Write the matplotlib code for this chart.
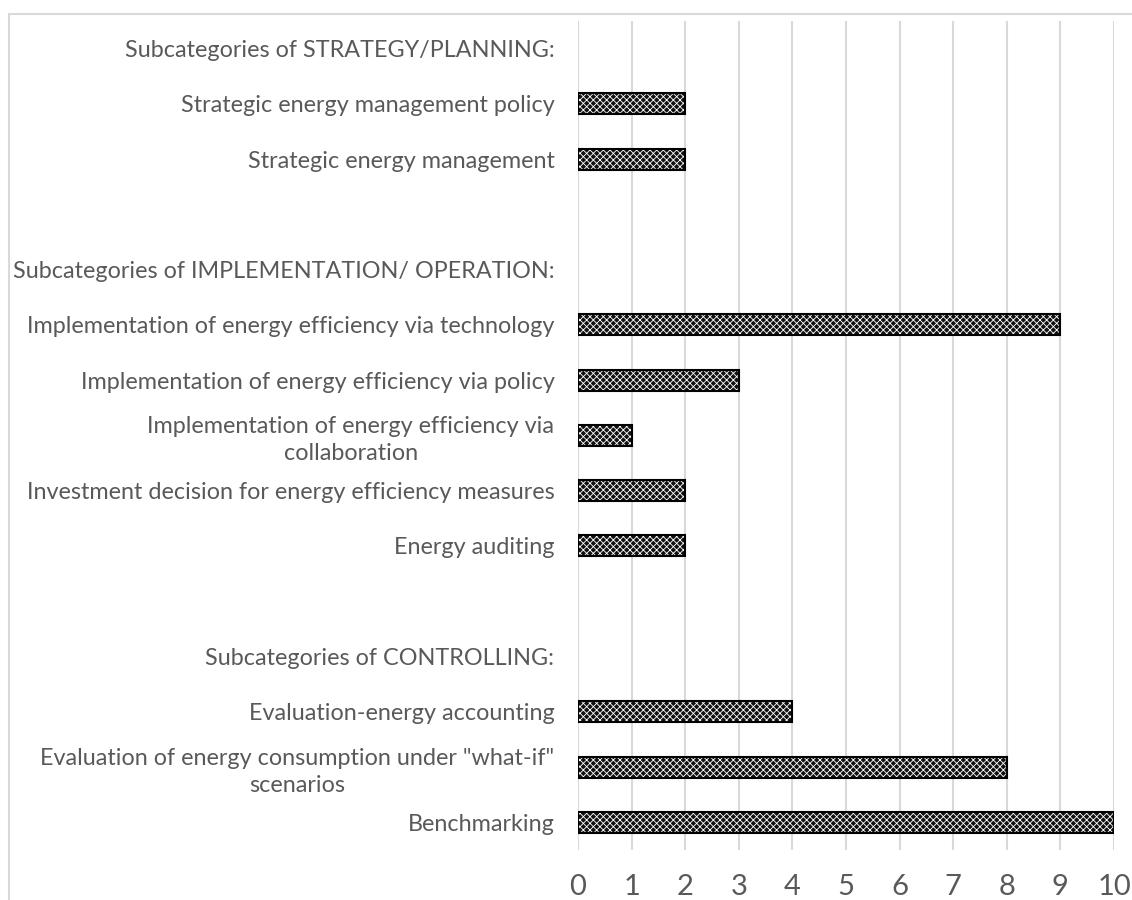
import matplotlib.pyplot as plt
from matplotlib.patches import Rectangle

# Categorias de baixo para cima (ordem do eixo y)
categories = [
    "Benchmarking",
    "Evaluation of energy consumption under \"what-if\"\nscenarios",
    "Evaluation-energy accounting",
    "Subcategories of CONTROLLING:",
    "",
    "Energy auditing",
    "Investment decision for energy efficiency measures",
    "Implementation of energy efficiency via\ncollaboration",
    "Implementation of energy efficiency via policy",
    "Implementation of energy efficiency via technology",
    "Subcategories of IMPLEMENTATION/ OPERATION:",
    "",
    "Strategic energy management",
    "Strategic energy management policy",
    "Subcategories of STRATEGY/PLANNING:",
]
values = [10, 8, 4, 0, 0, 2, 2, 1, 3, 9, 0, 0, 2, 2, 0]
x_ticks = list(range(0, 11))

plt.rcParams['font.family'] = ['Lato', 'DejaVu Sans']
plt.rcParams['hatch.linewidth'] = 0.6

fig = plt.figure(figsize=(11.32, 9), dpi=100)
ax = fig.add_axes([0.5106, 0.0556, 0.4735, 0.9211])

# Moldura cinza clara do grafico
fig.patches.append(Rectangle((9 / 1132, -0.1), 1.2, 1 - 14 / 900 + 0.1,
                             transform=fig.transFigure, fill=False,
                             edgecolor='#d9d9d9', linewidth=1.5))

pos = list(range(len(categories)))
# so desenha barras com valor (linhas de titulo ficam vazias)
bar_pos = [p for p, v in zip(pos, values) if v > 0]
bar_vals = [v for v in values if v > 0]
ax.barh(bar_pos, bar_vals, height=0.38, color='#111111', edgecolor='white',
        hatch='xxxxx', linewidth=0, zorder=3)
ax.barh(bar_pos, bar_vals, height=0.38, color='none', edgecolor='black',
        linewidth=1.5, zorder=4)

ax.set_xlim(0, 10)
ax.set_ylim(-0.5, len(categories) - 0.5)
ax.set_xticks(x_ticks)
ax.set_yticks(pos)
ax.set_yticklabels(categories, fontsize=16.8, color='#595959')
ax.tick_params(axis='x', labelsize=21, colors='#595959', length=0, pad=17)
ax.tick_params(axis='y', length=0, pad=17)
for lbl in ax.get_yticklabels():
    lbl.set_horizontalalignment('right')
    lbl.set_multialignment('center')
    lbl.set_linespacing(1.35)

ax.grid(axis='x', color='#d9d9d9', linewidth=1.5, zorder=0)
for s in ax.spines.values():
    s.set_visible(False)

fig.savefig('out.png', dpi=100)
